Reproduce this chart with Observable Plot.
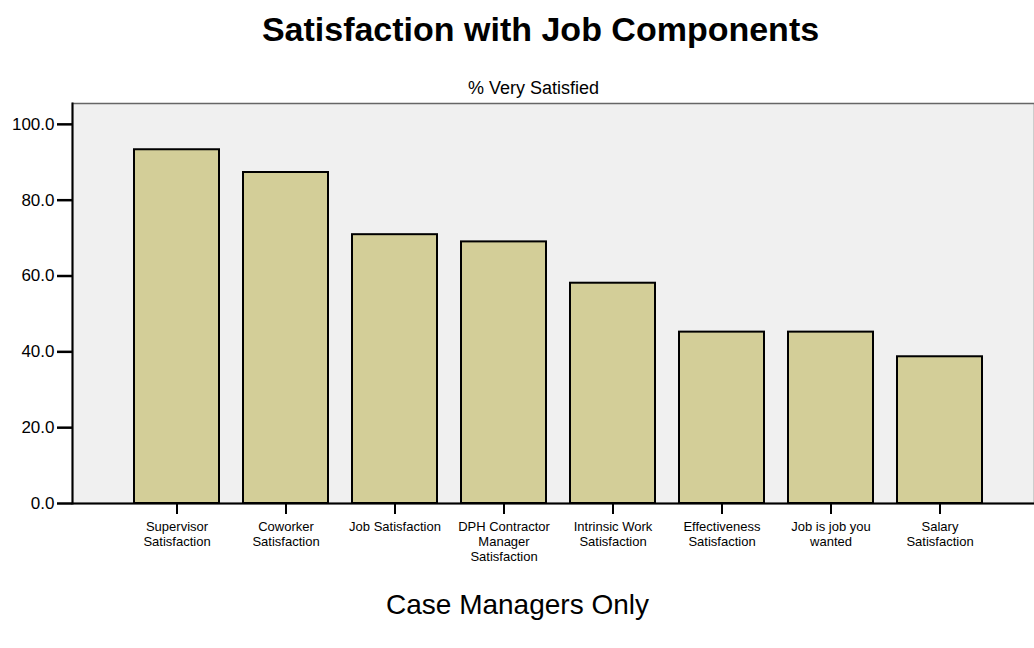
<!DOCTYPE html>
<html>
<head>
<meta charset="utf-8">
<script src="https://cdn.jsdelivr.net/npm/d3@7"></script>
<script src="https://cdn.jsdelivr.net/npm/@observablehq/plot@0.6"></script>
<style>
  html, body { margin: 0; padding: 0; background: #ffffff; }
  #chart svg { display: block; }
</style>
</head>
<body>
<div id="chart"></div>
<script>
const categories = [
  "Supervisor\nSatisfaction",
  "Coworker\nSatisfaction",
  "Job Satisfaction",
  "DPH Contractor\nManager\nSatisfaction",
  "Intrinsic Work\nSatisfaction",
  "Effectiveness\nSatisfaction",
  "Job is job you\nwanted",
  "Salary\nSatisfaction"
];
const values = [93.3, 87.3, 70.9, 69.0, 58.1, 45.2, 45.2, 38.7];
const yTicks = [0, 20, 40, 60, 80, 100];
const title = "Satisfaction with Job Components";
const subtitle = "% Very Satisfied";
const footer = "Case Managers Only";

const data = categories.map((c, i) => ({category: c, value: values[i]}));
const font = "'Liberation Sans', Arial, Helvetica, sans-serif";

const chart = Plot.plot({
  width: 1034,
  height: 648,
  marginTop: 103,
  marginBottom: 145,
  marginLeft: 72,
  marginRight: 0,
  style: {fontFamily: font, background: "#ffffff", overflow: "visible"},
  x: {domain: categories, range: [122, 994], paddingInner: 0.22, paddingOuter: 0.11, label: null},
  y: {domain: [0, 105.5], label: null},
  marks: [
    Plot.frame({fill: "#f0f0f0", stroke: "#666666", strokeWidth: 1.5}),
    Plot.barY(data, {x: "category", y: "value", fill: "#d3ce98", stroke: "#000000", strokeWidth: 2}),
    Plot.ruleY([0], {stroke: "#000000", strokeWidth: 2}),
    Plot.frame({anchor: "left", stroke: "#000000", strokeWidth: 2}),
    Plot.axisY({ticks: yTicks, tickFormat: d => d.toFixed(1), tickSize: 15, tickPadding: 3, strokeWidth: 2.5, stroke: "#000000", fontSize: 17, fill: "#000000"}),
    Plot.axisX({tickSize: 11, tickPadding: 6, strokeWidth: 2, stroke: "#000000", fontSize: 13, lineHeight: 1.15, fill: "#000000"}),
    Plot.text([title], {frameAnchor: "top", x: null, dx: -13, dy: -73, fontSize: 34, fontWeight: "bold", fill: "#000000", lineAnchor: "middle"}),
    Plot.text([subtitle], {frameAnchor: "top", x: null, dx: -20, dy: -15, fontSize: 18, fill: "#000000", lineAnchor: "middle"}),
    Plot.text([footer], {frameAnchor: "bottom", x: null, dx: -36, dy: 102, fontSize: 28, fill: "#000000", lineAnchor: "middle"})
  ]
});
document.getElementById("chart").appendChild(chart);
</script>
</body>
</html>
